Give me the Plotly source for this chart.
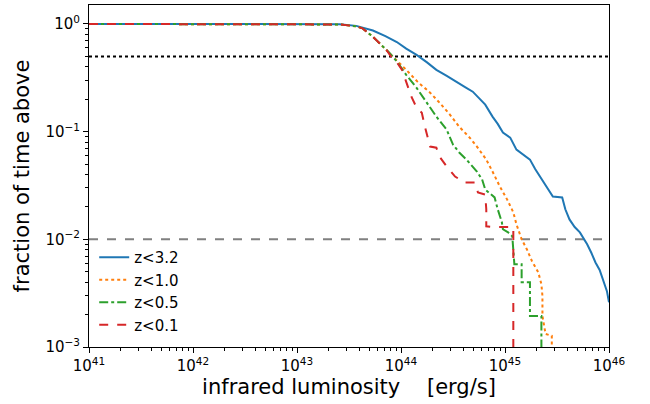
import plotly.graph_objects as go
import numpy as np

# log10 of infrared luminosity [erg/s] and fraction of time above
blue_logL = [41.0, 43.0, 43.3, 43.41, 43.57, 43.73, 43.85, 43.96, 44.05, 44.15, 44.25, 44.34, 44.44,
             44.53, 44.62, 44.69, 44.75, 44.81, 44.88, 44.93, 44.98, 45.05, 45.11, 45.18, 45.24,
             45.29, 45.34, 45.40, 45.46, 45.55, 45.58, 45.62, 45.67, 45.72, 45.79, 45.83, 45.87,
             45.91, 45.94, 45.98, 46.0]
blue_frac = [1.0, 1.0, 1.0, 0.995, 0.96, 0.87, 0.77, 0.68, 0.59, 0.516, 0.44, 0.375, 0.33,
             0.29, 0.258, 0.235, 0.205, 0.178, 0.138, 0.118, 0.098, 0.088, 0.068, 0.060, 0.055,
             0.045, 0.038, 0.031, 0.025, 0.0245, 0.019, 0.0153, 0.013, 0.0116, 0.0090, 0.0075,
             0.0061, 0.0052, 0.0043, 0.0033, 0.0026]

orange_logL = [41.0, 43.0, 43.3, 43.41, 43.57, 43.63, 43.73, 43.86, 43.95, 44.05, 44.16, 44.28,
               44.37, 44.47, 44.56, 44.66, 44.73, 44.82, 44.88, 44.95, 45.02, 45.08, 45.11, 45.16,
               45.21, 45.26, 45.32, 45.35, 45.36, 45.36, 45.39, 45.45, 45.45]
orange_frac = [1.0, 1.0, 1.0, 0.99, 0.95, 0.91, 0.76, 0.574, 0.47, 0.375, 0.29, 0.23, 0.186,
               0.144, 0.111, 0.088, 0.0727, 0.055, 0.0426, 0.031, 0.0235, 0.0178, 0.0138, 0.010,
               0.0081, 0.00626, 0.00494, 0.00383, 0.00297, 0.00194, 0.00132, 0.00127, 0.0005]

green_logL = [41.0, 43.0, 43.3, 43.41, 43.57, 43.63, 43.73, 43.89, 43.97, 44.05, 44.15, 44.25,
              44.34, 44.44, 44.50, 44.56, 44.63, 44.73, 44.78, 44.81, 44.87, 44.90, 44.93, 44.97,
              44.98, 45.03, 45.07, 45.08, 45.09, 45.16, 45.16, 45.24, 45.24, 45.35, 45.35]
green_frac = [1.0, 1.0, 1.0, 0.99, 0.95, 0.91, 0.76, 0.539, 0.435, 0.337, 0.255, 0.186, 0.138,
              0.104, 0.0758, 0.064, 0.055, 0.0426, 0.036, 0.029, 0.0261, 0.0245, 0.019, 0.0144,
              0.0124, 0.0116, 0.0107, 0.0076, 0.00587, 0.00587, 0.0040, 0.0040, 0.00194, 0.00194,
              0.0005]

red_logL = [41.0, 43.0, 43.3, 43.41, 43.57, 43.63, 43.73, 43.86, 43.94, 43.96, 44.01, 44.05,
            44.10, 44.15, 44.20, 44.23, 44.26, 44.28, 44.34, 44.37, 44.44, 44.52, 44.61, 44.71,
            44.74, 44.81, 44.82, 44.82, 44.88, 45.08, 45.08]
red_frac = [1.0, 1.0, 1.0, 0.99, 0.95, 0.91, 0.76, 0.574, 0.445, 0.44, 0.375, 0.284, 0.211,
            0.167, 0.150, 0.111, 0.088, 0.0727, 0.071, 0.0587, 0.0474, 0.0383, 0.0337, 0.0337,
            0.0272, 0.026, 0.019, 0.0132, 0.0130, 0.0130, 0.0005]

labels = ["z<3.2", "z<1.0", "z<0.5", "z<0.1"]
colors = ["#1f77b4", "#ff7f0e", "#2ca02c", "#d62728"]
dashes = ["solid", "dot", "dashdot", "dash"]

half_level = 0.5
rare_level = 0.01

series = [(blue_logL, blue_frac), (orange_logL, orange_frac),
          (green_logL, green_frac), (red_logL, red_frac)]

fig = go.Figure()

# reference levels
fig.add_trace(go.Scatter(x=[1e41, 1e46], y=[half_level, half_level], mode="lines",
                         line=dict(color="black", width=2, dash="dot"), showlegend=False))
fig.add_trace(go.Scatter(x=[1e41, 1e46], y=[rare_level, rare_level], mode="lines",
                         line=dict(color="gray", width=2, dash="dash"), showlegend=False))

for (lx, fr), name, c, d in zip(series, labels, colors, dashes):
    fig.add_trace(go.Scatter(x=10 ** np.array(lx), y=fr, mode="lines", name=name,
                             line=dict(color=c, width=2, dash=d)))

major_x = [1e41, 1e42, 1e43, 1e44, 1e45, 1e46]
minor_x = [m * 10.0 ** e for e in range(41, 46) for m in range(2, 10)]
major_y = [1e-3, 1e-2, 1e-1, 1e0]
minor_y = [m * 10.0 ** e for e in range(-3, 0) for m in range(2, 10)]

fig.update_layout(
    width=650, height=404,
    margin=dict(l=89, r=41, t=5, b=57),
    plot_bgcolor="white", paper_bgcolor="white",
    font=dict(family="DejaVu Sans", size=15, color="black"),
    legend=dict(x=0.01, y=0.31, xanchor="left", yanchor="top",
                bgcolor="rgba(0,0,0,0)", font=dict(size=15), tracegroupgap=0),
    xaxis=dict(type="log", range=[41, 46],
               tickvals=major_x, ticktext=["10<sup>%d</sup>" % e for e in range(41, 47)],
               ticks="outside", ticklen=5, tickwidth=1, tickcolor="black",
               minor=dict(tickvals=minor_x, ticks="outside", ticklen=3, tickcolor="black"),
               showline=True, linecolor="black", linewidth=1, mirror=True,
               showgrid=False, zeroline=False,
               title=dict(text="infrared luminosity    [erg/s]", font=dict(size=21), standoff=3)),
    yaxis=dict(type="log", range=[-3, np.log10(1.5)],
               tickvals=major_y, ticktext=["10<sup>\u22123</sup>", "10<sup>\u22122</sup>",
                                           "10<sup>\u22121</sup>", "10<sup>0</sup>"],
               ticks="outside", ticklen=5, tickwidth=1, tickcolor="black",
               minor=dict(tickvals=minor_y, ticks="outside", ticklen=3, tickcolor="black"),
               showline=True, linecolor="black", linewidth=1, mirror=True,
               showgrid=False, zeroline=False,
               title=dict(text="fraction of time above", font=dict(size=21), standoff=10)),
)

fig.write_html("out.html", config={"displayModeBar": False},
               post_script="document.body.style.margin='0';")
